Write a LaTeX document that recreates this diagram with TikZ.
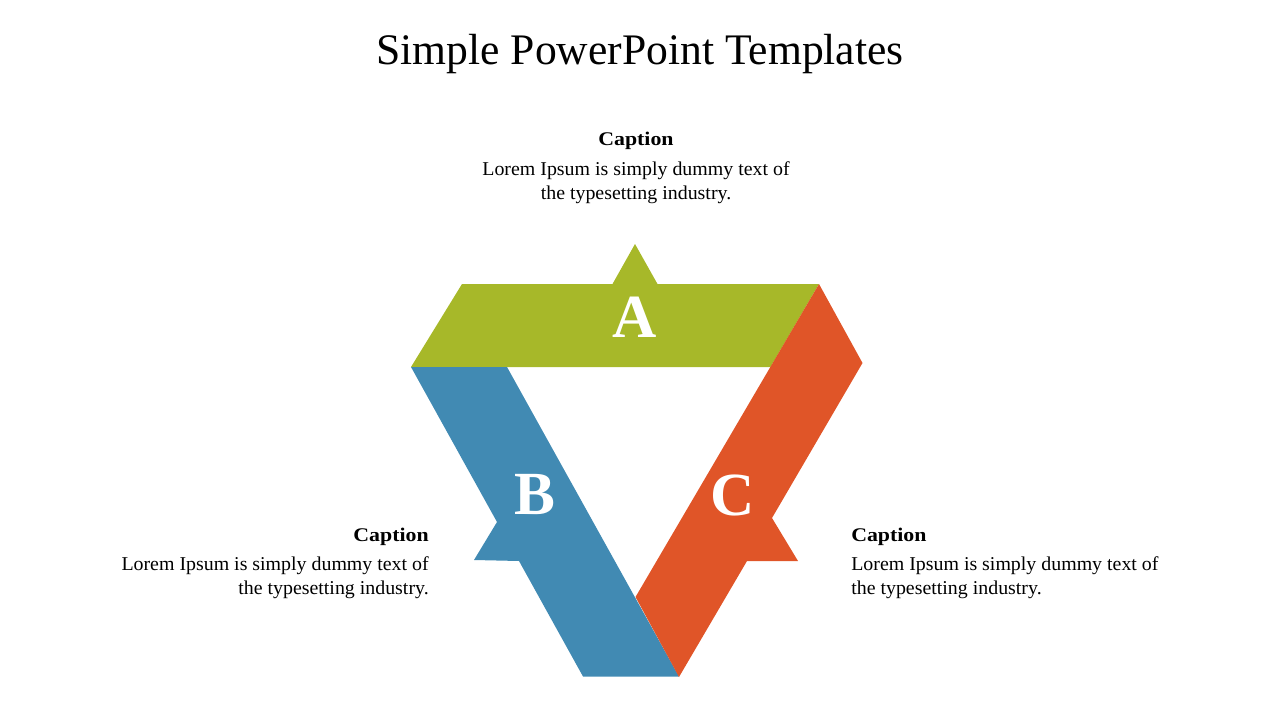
\documentclass[tikz,border=0pt]{standalone}
\usepackage{fontspec}
\setmainfont{Liberation Serif}
\newfontfamily\capfont[FakeStretch=1.13]{Liberation Serif}
\newfontfamily\bodyfont[FakeStretch=1.015]{Liberation Serif}
\definecolor{agreen}{RGB}{167,184,41}
\definecolor{bblue}{RGB}{65,138,179}
\definecolor{corange}{RGB}{224,85,40}
\tikzset{
  letter/.style={text=white, font=\fontsize{46}{46}\selectfont\bfseries, inner sep=0pt},
  captitle/.style={inner sep=0pt, font=\capfont\fontsize{14.5}{17}\selectfont\bfseries},
  capline/.style={inner sep=0pt, font=\bodyfont\fontsize{14.7}{17}\selectfont},
}
\begin{document}
\begin{tikzpicture}[x=0.75pt,y=-0.75pt]
\useasboundingbox (0,0) rectangle (1280,720);
% title
\node[inner sep=0pt, anchor=base, font=\fontsize{32.7}{36}\selectfont] (title) at (640,65) {Simple PowerPoint Templates};
% green band A
\fill[agreen] (411,367) -- (462,284) -- (612.5,284) -- (635,244) -- (657.5,284) -- (819,284) -- (770.5,367) -- cycle;
% blue band B
\fill[bblue] (411,367) -- (507,367) -- (679,676.5) -- (583,676.5) -- (519,561) -- (474,560) -- (497,522) -- cycle;
% orange band C
\fill[corange] (819,284) -- (862.5,363) -- (772,518) -- (798,561) -- (747,561) -- (679,677) -- (635.5,597) -- cycle;
% letters
\node[letter] (A) at (635,317) {A};
\node[letter] (B) at (535,494.5) {B};
\node[letter] (C) at (733,495) {C};
% top caption
\node[captitle, anchor=base] (capA) at (636,146) {Caption};
\node[capline, anchor=base] (a1) at (636,175.5) {Lorem Ipsum is simply dummy text of};
\node[capline, anchor=base] (a2) at (636,199.5) {the typesetting industry.};
% left caption
\node[captitle, anchor=base east] (capB) at (429,541) {Caption};
\node[capline, anchor=base east] (b1) at (429,570.5) {Lorem Ipsum is simply dummy text of};
\node[capline, anchor=base east] (b2) at (429,594.5) {the typesetting industry.};
% right caption
\node[captitle, anchor=base west] (capC) at (851,541) {Caption};
\node[capline, anchor=base west] (c1) at (851,570.5) {Lorem Ipsum is simply dummy text of};
\node[capline, anchor=base west] (c2) at (851,594.5) {the typesetting industry.};
\end{tikzpicture}
\end{document}
